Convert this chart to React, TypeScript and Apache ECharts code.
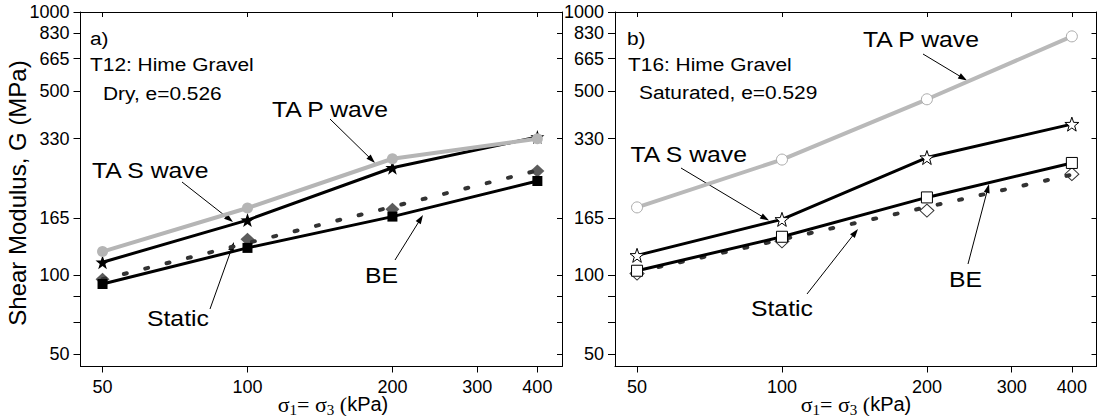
import React, { useEffect, useRef } from "react";
import * as echarts from "echarts";

// ---- data ----
const X_TICKS = [50, 100, 200, 300, 400];
const Y_LABELS = [50, 100, 165, 330, 500, 665, 830, 1000];
const Y_TICKS = [50, 66.5, 83, 100, 165, 330, 500, 665, 830, 1000];
const pressure = [50, 100, 200, 400];
const fitEnds = [50, 400];

// a) T12 dry
const dryPWave = [123, 180, 277, 330];
const drySWave = [112, 162, 256, 335];
const dryStatic = [96.5, 137, 178, 249];
const dryStaticFit = [96.5, 250];
const dryBE = [92.6, 127, 167, 228];

// b) T16 saturated
const satPWave = [181, 275, 466, 808];
const satSWave = [119, 163, 280, 375];
const satStatic = [101.5, 134.5, 176, 242];
const satStaticFit = [103, 241];
const satBE = [104, 140, 197.5, 267];

const SANS = "'Liberation Sans', Arial, sans-serif";
const SERIF = "'Liberation Serif', 'Times New Roman', serif";
const STAR =
  "path://M0,-10L2.35,-3.24L9.51,-3.09L3.8,1.24L5.88,8.09L0,4L-5.88,8.09L-3.8,1.24L-9.51,-3.09L-2.35,-3.24Z";

const zip = (xs: number[], ys: number[]) => xs.map((x, i) => [x, ys[i]]);

const GRID_W = 481.5;
const GRID_H = 354.5;
const grids = [
  { left: 80.5, top: 12, width: GRID_W, height: GRID_H },
  { left: 615, top: 12, width: GRID_W, height: GRID_H },
];

function xAxes(i: number) {
  const base = {
    type: "log",
    gridIndex: i,
    min: 45,
    max: 450,
    logBase: 10,
    splitLine: { show: false },
    minorTick: { show: false },
    minorSplitLine: { show: false },
    axisLine: { show: true, lineStyle: { color: "#000", width: 1 } },
  };
  return [
    {
      ...base,
      position: "bottom",
      axisTick: { show: true, customValues: X_TICKS, length: 6, lineStyle: { color: "#000" } },
      axisLabel: {
        show: true,
        customValues: X_TICKS,
        fontSize: 18,
        lineHeight: 16,
        color: "#000",
        fontFamily: SANS,
        margin: 12,
        formatter: (v: number) => String(Math.round(v)),
      },
    },
    {
      ...base,
      position: "top",
      axisTick: { show: true, inside: true, customValues: X_TICKS, length: 5, lineStyle: { color: "#000" } },
      axisLabel: { show: false },
    },
  ];
}

function yAxes(i: number) {
  const base = {
    type: "log",
    gridIndex: i,
    min: 45,
    max: 1000,
    logBase: 10,
    splitLine: { show: false },
    minorTick: { show: false },
    minorSplitLine: { show: false },
    axisLine: { show: true, lineStyle: { color: "#000", width: 1 } },
  };
  return [
    {
      ...base,
      position: "left",
      axisTick: { show: true, customValues: Y_TICKS, length: 7, lineStyle: { color: "#000" } },
      axisLabel: {
        show: true,
        customValues: Y_LABELS,
        fontSize: 18,
        lineHeight: 16,
        color: "#000",
        fontFamily: SANS,
        margin: 11,
        formatter: (v: number) => String(Math.round(v)),
      },
    },
    {
      ...base,
      position: "right",
      axisTick: { show: true, inside: true, customValues: Y_TICKS, length: 5, lineStyle: { color: "#000" } },
      axisLabel: { show: false },
    },
  ];
}

function panelSeries(
  i: number,
  d: { p: number[]; s: number[]; st: number[]; fit: number[]; be: number[] },
  open: boolean
) {
  const xi = i * 2;
  const yi = i * 2;
  const black = "#000";
  const fillOf = (c: string) =>
    open ? { color: "#fff", borderColor: c, borderWidth: 1 } : { color: c, borderWidth: 0 };
  const gray = open ? "#b9b9b9" : "#b5b5b5";
  return [
    {
      name: "Static fit",
      type: "line",
      xAxisIndex: xi,
      yAxisIndex: yi,
      data: zip(fitEnds, d.fit),
      showSymbol: false,
      symbol: "none",
      lineStyle: { color: "#333", width: 4, type: [3, 19], cap: "round" },
      silent: true,
    },
    {
      name: "Static",
      type: "scatter",
      xAxisIndex: xi,
      yAxisIndex: yi,
      data: zip(pressure, d.st),
      symbol: "diamond",
      symbolSize: [14, 13],
      itemStyle: fillOf(open ? black : "#333"),
    },
    {
      name: "BE",
      type: "line",
      xAxisIndex: xi,
      yAxisIndex: yi,
      data: zip(pressure, d.be),
      symbol: "rect",
      symbolSize: open ? 11 : 10,
      showAllSymbol: true,
      itemStyle: fillOf(black),
      lineStyle: { color: black, width: 3 },
    },
    {
      name: "TA S wave",
      type: "line",
      xAxisIndex: xi,
      yAxisIndex: yi,
      data: zip(pressure, d.s),
      symbol: STAR,
      symbolSize: 14,
      showAllSymbol: true,
      itemStyle: fillOf(black),
      lineStyle: { color: black, width: 3 },
    },
    {
      name: "TA P wave",
      type: "line",
      xAxisIndex: xi,
      yAxisIndex: yi,
      data: zip(pressure, d.p),
      symbol: "circle",
      symbolSize: 11,
      showAllSymbol: true,
      itemStyle: open ? { color: "#fff", borderColor: "#aaa", borderWidth: 1 } : { color: gray },
      lineStyle: { color: gray, width: 4 },
    },
  ];
}

function arrow(x1: number, y1: number, x2: number, y2: number) {
  const dx = x2 - x1;
  const dy = y2 - y1;
  const len = Math.sqrt(dx * dx + dy * dy);
  const ux = dx / len;
  const uy = dy / len;
  const px = -uy;
  const py = ux;
  const hl = 9;
  const hw = 3;
  return {
    type: "group",
    children: [
      {
        type: "line",
        shape: { x1, y1, x2: x2 - ux * 6, y2: y2 - uy * 6 },
        style: { stroke: "#000", lineWidth: 1 },
      },
      {
        type: "polygon",
        shape: {
          points: [
            [x2, y2],
            [x2 - ux * hl + px * hw, y2 - uy * hl + py * hw],
            [x2 - ux * hl - px * hw, y2 - uy * hl - py * hw],
          ],
        },
        style: { fill: "#000" },
      },
    ],
  };
}

function label(text: string, x: number, y: number, size: number) {
  return {
    type: "text",
    x,
    y,
    scaleX: 1.1,
    style: {
      text,
      fill: "#000",
      fontSize: size,
      fontFamily: SANS,
      align: "left",
      verticalAlign: "middle",
    },
  };
}

function xTitle(cx: number, cy: number) {
  return {
    type: "text",
    x: cx,
    y: cy,
    style: {
      text: "{s|σ}{sub|1}{s|= σ}{sub|3}{s| (}{k|kPa)}",
      align: "center",
      verticalAlign: "middle",
      fill: "#000",
      rich: {
        s: { fontSize: 22, fontFamily: SERIF, lineHeight: 20, verticalAlign: "top", fill: "#000" },
        sub: {
          fontSize: 15,
          fontFamily: SERIF,
          lineHeight: 13,
          padding: [9, 0, 0, 0],
          verticalAlign: "top",
          fill: "#000",
        },
        k: { fontSize: 20, fontFamily: SANS, lineHeight: 20, verticalAlign: "top", fill: "#000", padding: [1, 0, 0, 0] },
      },
    },
  };
}

export default function App() {
  const ref = useRef<HTMLDivElement>(null);
  useEffect(() => {
    if (!ref.current) return;
    const chart = echarts.init(ref.current, null, { renderer: "svg" });
    const option: any = {
      animation: false,
      backgroundColor: "#fff",
      grid: grids,
      xAxis: [...xAxes(0), ...xAxes(1)],
      yAxis: [...yAxes(0), ...yAxes(1)],
      series: [
        ...panelSeries(0, { p: dryPWave, s: drySWave, st: dryStatic, fit: dryStaticFit, be: dryBE }, false),
        ...panelSeries(1, { p: satPWave, s: satSWave, st: satStatic, fit: satStaticFit, be: satBE }, true),
      ],
      graphic: [
        // panel a
        label("a)", 90, 38, 19),
        label("T12: Hime Gravel", 90, 64, 19),
        label("Dry, e=0.526", 103, 93, 19),
        label("TA P wave", 272, 109, 22.5),
        label("TA S wave", 92, 170, 22.5),
        label("Static", 147, 318, 22.5),
        label("BE", 365, 275, 22.5),
        arrow(330, 119, 375, 163),
        arrow(182, 182, 233, 222),
        arrow(210, 309, 234, 242),
        arrow(395, 260, 423, 215),
        // panel b
        label("b)", 627, 38, 19),
        label("T16: Hime Gravel", 628, 64, 19),
        label("Saturated, e=0.529", 639, 92, 19),
        label("TA P wave", 863, 39.5, 22.5),
        label("TA S wave", 630.5, 154, 22.5),
        label("Static", 751, 308, 22.5),
        label("BE", 949, 279, 22.5),
        arrow(923, 54, 967, 80.5),
        arrow(681, 168, 769, 220.6),
        arrow(807, 294, 858, 229),
        arrow(968, 264, 989, 184),
        // axis titles
        {
          type: "text",
          x: 17,
          y: 193,
          rotation: Math.PI / 2,
          style: {
            text: "Shear Modulus, G (MPa)",
            fontSize: 24,
            fontFamily: SANS,
            fill: "#000",
            align: "center",
            verticalAlign: "middle",
          },
        },
        xTitle(333, 403),
        xTitle(856, 403),
      ],
    };
    chart.setOption(option);
    return () => chart.dispose();
  }, []);
  return (
    <div
      ref={ref}
      style={{ position: "absolute", left: 0, top: 0, width: 1099, height: 416, background: "#fff" }}
    />
  );
}
